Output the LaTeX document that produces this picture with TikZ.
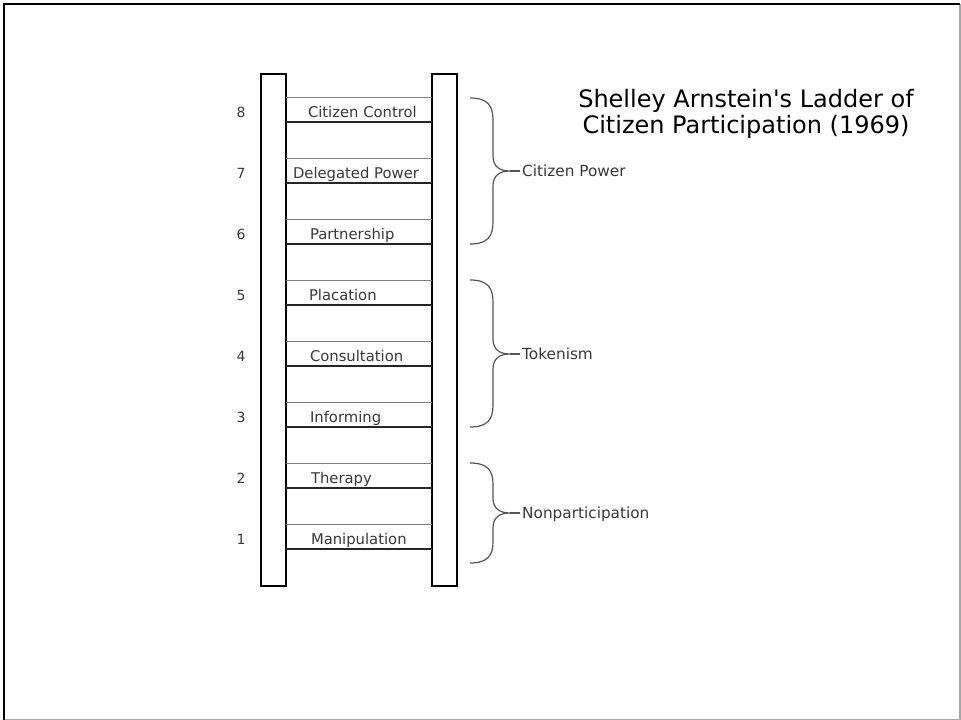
\documentclass[tikz,border=0pt]{standalone}
\usepackage{fontspec}
\setmainfont{DejaVu Sans}
\usepackage{tikz}
\usetikzlibrary{positioning,calc}
\definecolor{labelgray}{HTML}{383838}
\definecolor{bracegray}{HTML}{555555}
\tikzstyle{rail} = [draw, rectangle, line width=1.2pt, minimum width=25pt, minimum height=512pt, inner sep=0pt]
\tikzstyle{rung} = [rectangle, minimum width=146pt, minimum height=24pt, inner sep=0pt]
\tikzstyle{upper} = [draw=black!50, line width=1pt]
\tikzstyle{lower} = [draw=black!85, line width=1.6pt]
\tikzstyle{steptext} = [text=labelgray, font=\fontsize{14.8}{16}\selectfont, inner sep=0pt, anchor=base west]
\tikzstyle{num} = [text=labelgray, font=\fontsize{14}{16}\selectfont, inner sep=0pt, anchor=base east]
\tikzstyle{brace} = [draw=bracegray, line width=1.2pt]
\tikzstyle{group} = [text=labelgray, font=\fontsize{15.3}{17}\selectfont, inner sep=2pt, text height=11pt, text depth=0pt, anchor=west]
\tikzstyle{title} = [font=\fontsize{24}{26}\selectfont, align=center]

\begin{document}
\begin{tikzpicture}[x=1pt, y=-1pt, node distance=61pt]
        \useasboundingbox (0,0) rectangle (961,720);
        % frame
        \draw[gray!70, line width=1.2pt] (960,4) -- (960,719.4) -- (4,719.4);
        \draw[line width=2.8pt] (4,720) -- (4,4) -- (960,4);
        % title
        \node[title] (title) at (746,113.5) {Shelley Arnstein\textquotesingle s Ladder of\\Citizen Participation (1969)};
        % rails
        \node[rail] (lrail) at (273.5,330) {};
        \node[rail] (rrail) at (444.5,330) {};
        % rungs
        \node[rung] (s8) at (359,110) {};
        \node[rung, below of=s8] (s7) {};
        \node[rung, below of=s7] (s6) {};
        \node[rung, below of=s6] (s5) {};
        \node[rung, below of=s5] (s4) {};
        \node[rung, below of=s4] (s3) {};
        \node[rung, below of=s3] (s2) {};
        \node[rung, below of=s2] (s1) {};
        \draw[upper] (s8.north west) -- (s8.north east);
        \draw[lower] (s8.south west) -- (s8.south east);
        \draw[upper] (s7.north west) -- (s7.north east);
        \draw[lower] (s7.south west) -- (s7.south east);
        \draw[upper] (s6.north west) -- (s6.north east);
        \draw[lower] (s6.south west) -- (s6.south east);
        \draw[upper] (s5.north west) -- (s5.north east);
        \draw[lower] (s5.south west) -- (s5.south east);
        \draw[upper] (s4.north west) -- (s4.north east);
        \draw[lower] (s4.south west) -- (s4.south east);
        \draw[upper] (s3.north west) -- (s3.north east);
        \draw[lower] (s3.south west) -- (s3.south east);
        \draw[upper] (s2.north west) -- (s2.north east);
        \draw[lower] (s2.south west) -- (s2.south east);
        \draw[upper] (s1.north west) -- (s1.north east);
        \draw[lower] (s1.south west) -- (s1.south east);
        % step names
        \node[steptext] (t8) at ($(s8.west)+(22,7)$) {Citizen Control};
        \node[steptext] (t7) at ($(s7.west)+(7,7)$) {Delegated Power};
        \node[steptext] (t6) at ($(s6.west)+(24,7)$) {Partnership};
        \node[steptext] (t5) at ($(s5.west)+(23,7)$) {Placation};
        \node[steptext] (t4) at ($(s4.west)+(24,7)$) {Consultation};
        \node[steptext] (t3) at ($(s3.west)+(24,7)$) {Informing};
        \node[steptext] (t2) at ($(s2.west)+(25,7)$) {Therapy};
        \node[steptext] (t1) at ($(s1.west)+(25,7)$) {Manipulation};
        % numbers
        \node[num] (n8) at ($(s8.west)+(-40,7)$) {8};
        \node[num] (n7) at ($(s7.west)+(-40,7)$) {7};
        \node[num] (n6) at ($(s6.west)+(-40,7)$) {6};
        \node[num] (n5) at ($(s5.west)+(-40,7)$) {5};
        \node[num] (n4) at ($(s4.west)+(-40,7)$) {4};
        \node[num] (n3) at ($(s3.west)+(-40,7)$) {3};
        \node[num] (n2) at ($(s2.west)+(-40,7)$) {2};
        \node[num] (n1) at ($(s1.west)+(-40,7)$) {1};
        % braces
        \coordinate (cptip) at (510,171);
        \node[group] (cp) at (520,171) {Citizen Power};
        \draw[brace] (470,98) .. controls (488,98) and (493,106) .. (493,120) -- (493,156)
            .. controls (493,166) and (499,171) .. (cptip)
            .. controls (499,171) and (493,176) .. (493,186) -- (493,222)
            .. controls (493,236) and (488,244) .. (470,244);
        \draw[brace] (cptip) -- (cp);
        \coordinate (tktip) at (510,354);
        \node[group] (tk) at (520,354) {Tokenism};
        \draw[brace] (470,280) .. controls (488,280) and (493,288) .. (493,302) -- (493,339)
            .. controls (493,349) and (499,354) .. (tktip)
            .. controls (499,354) and (493,359) .. (493,369) -- (493,405)
            .. controls (493,419) and (488,427) .. (470,427);
        \draw[brace] (tktip) -- (tk);
        \coordinate (nptip) at (510,513);
        \node[group] (np) at (520,513) {Nonparticipation};
        \draw[brace] (470,463) .. controls (488,463) and (493,471) .. (493,484) -- (493,498)
            .. controls (493,508) and (499,513) .. (nptip)
            .. controls (499,513) and (493,518) .. (493,528) -- (493,542)
            .. controls (493,555) and (488,563) .. (470,563);
        \draw[brace] (nptip) -- (np);
    \end{tikzpicture}
\end{document}
